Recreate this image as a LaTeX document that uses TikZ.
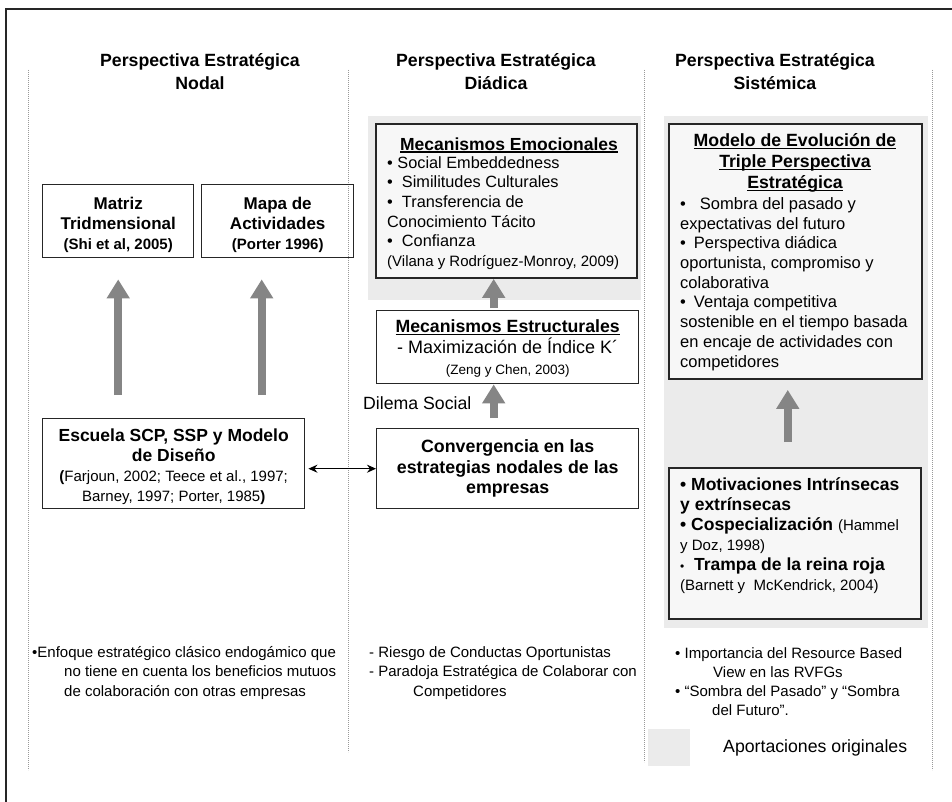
\documentclass[tikz,border=0pt]{standalone}
\usepackage{fontspec}
\setmainfont{Liberation Sans}
\usetikzlibrary{arrows.meta}
% font size helper: size and baseline skip in pt
\newcommand\fsz[2]{\fontsize{#1pt}{#2pt}\selectfont}
% underline set just below the baseline
\newcommand\ulx[1]{\setbox0\hbox{#1}\rlap{\rule[-2.4pt]{\wd0}{1.1pt}}\box0}
\begin{document}
\begin{tikzpicture}[x=1pt,y=-1pt,
  box/.style={draw=black!85,line width=1.4pt,inner sep=0pt,anchor=north west,align=center},
  hibox/.style={box,fill=black!3,line width=1.9pt},
  shadebg/.style={fill=black!8},
  sep/.style={draw=black!40,line width=0.8pt,dash pattern=on 0.8pt off 1.2pt},
  bigarrow/.style={draw=black!48,line width=8pt,-{Triangle[width=22pt,length=19pt]}},
  dblarrow/.style={draw=black,line width=1.3pt,{Stealth[length=9pt,width=8pt]}-{Stealth[length=9pt,width=8pt]}},
  txt/.style={inner sep=0pt,align=left},
  hdr/.style={inner sep=0pt,align=center,font=\bfseries\fsz{17.7}{23}},
  bottxt/.style={txt,anchor=west,font=\fsz{15}{19.5}},
]
\useasboundingbox (0,0) rectangle (952,802);

% shaded areas for the original contributions
\fill[shadebg] (368,116) rectangle (641,300);
\fill[shadebg] (664,116) rectangle (928,628);

% outer frame (top and left edges)
\draw[black!85,line width=1.2pt] (6,802) -- (6,9) -- (952,9);

% column separators
\draw[sep] (28,70) -- (28,770);
\draw[sep] (348,70) -- (348,752);
\draw[sep] (644,70) -- (644,762);
\draw[sep] (932,70) -- (932,770);

% column headers
\node[hdr] (h1) at (200,71.5) {Perspectiva Estratégica\\Nodal};
\node[hdr] (h2) at (496,71.5) {Perspectiva Estratégica\\Diádica};
\node[hdr] (h3) at (775,71.5) {Perspectiva Estratégica\\Sistémica};

% nodal column
\node[box,minimum width=151pt,minimum height=73pt,font=\bfseries\fsz{17}{20}] (matriz) at (42,184)
  {\rule{0pt}{20pt}Matriz\\Tridmensional\\{\fsz{15}{20}(Shi et al, 2005)}};
\node[box,minimum width=152pt,minimum height=73pt,font=\bfseries\fsz{17}{20}] (mapa) at (201,184)
  {\rule{0pt}{20pt}Mapa de\\Actividades\\{\fsz{15}{20}(Porter 1996)}};
\node[box,minimum width=262pt,minimum height=90pt,font=\bfseries\fsz{17.5}{20}] (escuela) at (42,418)
  {\rule{0pt}{18pt}Escuela SCP, SSP y Modelo\\de Diseño\\{\fsz{15}{19.5}(\mdseries Farjoun, 2002; Teece et al., 1997;}\\{\fsz{15}{19.5}\mdseries Barney, 1997; Porter, 1985\bfseries)}};

% dyadic column
\node[hibox,minimum width=261pt,minimum height=154pt] (emo) at (375,123) {};
\node[txt,font=\bfseries\fsz{17.5}{20}] (emoT) at (509,145) {\ulx{Mecanismos Emocionales}};
\node[txt,anchor=west,font=\fsz{16.3}{19.7}] (emoB) at (387,213)
  {• Social Embeddedness\\•\ \ Similitudes Culturales\\•\ \ Transferencia de\\Conocimiento Tácito\\•\ \ Confianza\\{\fsz{15}{19.7}(Vilana y Rodríguez-Monroy, 2009)}};
\node[box,minimum width=262pt,minimum height=73pt,font=\fsz{17.7}{21}] (estr) at (376,310)
  {\rule{0pt}{16pt}\ulx{\bfseries Mecanismos Estructurales}\\{\fsz{18}{21}- Maximización de Índice K´}\\{\fsz{13.5}{21}(Zeng y Chen, 2003)}};
\node[txt,anchor=west,font=\fsz{17.7}{20}] (dilema) at (363,403) {Dilema Social};
\node[box,minimum width=262pt,minimum height=80pt,font=\bfseries\fsz{17.8}{20.5}] (conv) at (376,428)
  {Convergencia en las\\estrategias nodales de las\\empresas};

% systemic column
\node[hibox,minimum width=253pt,minimum height=255pt] (modelo) at (668,123) {};
\node[inner sep=0pt,align=center,font=\bfseries\fsz{17.7}{21}] (modT) at (795,163)
  {\ulx{Modelo de Evolución de}\\\ulx{Triple Perspectiva}\\\ulx{Estratégica}};
\node[txt,anchor=west,font=\fsz{16.5}{19.7}] (modB) at (680,284)
  {•\hspace{14pt}Sombra del pasado y\\expectativas del futuro\\•\hspace{8pt}Perspectiva diádica\\oportunista, compromiso y\\colaborativa\\•\hspace{8pt}Ventaja competitiva\\sostenible en el tiempo basada\\en encaje de actividades con\\competidores};
\node[hibox,line width=1.5pt,minimum width=252pt,minimum height=151pt] (motiv) at (668,467) {};
\node[txt,anchor=west,font=\fsz{17.5}{20}] (motB) at (680,536)
  {\textbf{• Motivaciones Intrínsecas}\\\textbf{y extrínsecas}\\\textbf{• Cospecialización} {\fsz{15}{20}(Hammel}\\{\fsz{15}{20}y Doz, 1998)}\\{\fsz{12}{20}•}\ \ \textbf{Trampa de la reina roja}\\{\fsz{15}{20}(Barnett y\ \ McKendrick, 2004)}};

% arrows
\draw[bigarrow,shorten <=23pt,shorten >=21pt] (escuela.north -| matriz.south) -- (matriz.south);
\draw[bigarrow,shorten <=23pt,shorten >=21pt] ([xshift=-16pt]escuela.north -| mapa.south) -- ([xshift=-16pt]mapa.south);
\draw[bigarrow,shorten <=2pt] ([xshift=-14pt]estr.north) -- ([xshift=-14pt]emo.south -| estr.north);
\draw[bigarrow,shorten <=10pt] ([xshift=-14pt]conv.north) -- ([xshift=-14pt]estr.south);
\draw[bigarrow,shorten <=25pt,shorten >=10pt] ([xshift=-7pt]motiv.north) -- ([xshift=-7pt]modelo.south -| motiv.north);
\draw[dblarrow,shorten >=3pt] (conv.west) -- (conv.west -| escuela.east);

% notes under each column
\node[bottxt] (n1) at (32,673)
  {•Enfoque estratégico clásico endogámico que\\\hspace*{32pt}no tiene en cuenta los beneficios mutuos\\\hspace*{32pt}de colaboración con otras empresas};
\node[bottxt] (n2) at (369,673)
  {- Riesgo de Conductas Oportunistas\\- Paradoja Estratégica de Colaborar con\\\hspace*{44pt}Competidores};
\node[bottxt,font=\fsz{15}{19}] (n3) at (675,682)
  {• Importancia del Resource Based\\\hspace*{38pt}View en las RVFGs\\• “Sombra del Pasado” y “Sombra\\\hspace*{37pt}del Futuro”.};

% legend
\fill[shadebg] (648,729) rectangle (690,766);
\node[txt,anchor=west,font=\fsz{17.7}{20}] (leg) at (723,748) {Aportaciones originales};
\end{tikzpicture}
\end{document}
